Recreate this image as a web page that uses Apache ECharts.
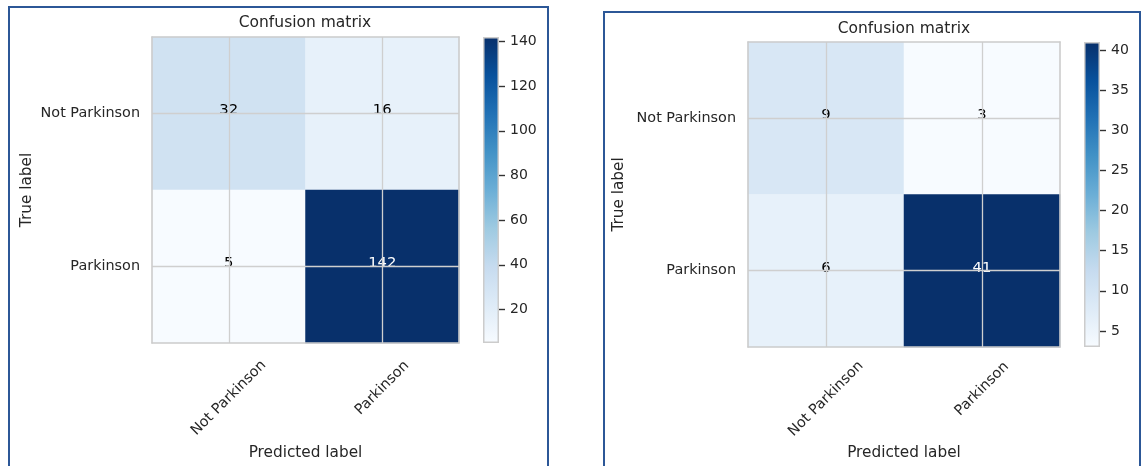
<!DOCTYPE html>
<html>
<head>
<meta charset="utf-8">
<script src="https://cdn.jsdelivr.net/npm/echarts@6/dist/echarts.min.js"></script>
<style>
html,body{margin:0;padding:0;background:#fff;}
#chart{width:1146px;height:466px;}
</style>
</head>
<body>
<div id="chart"></div>
<script>
// ---- data ----
const classes = ['Not Parkinson', 'Parkinson'];
const cmLeft = [[32, 16], [5, 142]];   // rows: true label, cols: predicted label
const cmRight = [[9, 3], [6, 41]];
const cbTicksLeft = [20, 40, 60, 80, 100, 120, 140];
const cbTicksRight = [5, 10, 15, 20, 25, 30, 35, 40];
const titleText = 'Confusion matrix';
const xName = 'Predicted label';
const yName = 'True label';

// ---- style ----
const FONT = 'DejaVu Sans';
const TXT = '#262626';
const blues = ['#f7fbff', '#deebf7', '#c6dbef', '#9ecae1', '#6baed6', '#4292c6', '#2171b5', '#08519c', '#08306b'];
const frameColor = '#cccccc';

const chart = echarts.init(document.getElementById('chart'), null, {renderer: 'canvas'});

const option = {
  animation: false,
  backgroundColor: '#ffffff',
  textStyle: {fontFamily: FONT},
  grid: [], xAxis: [], yAxis: [], series: [], visualMap: [], graphic: []
};

function addPanel(cm, ticks, geo, idx) {
  const vals = cm.flat();
  const vmin = Math.min(...vals), vmax = Math.max(...vals);
  const g0 = option.grid.length;
  option.grid.push({left: geo.hx, top: geo.hy, width: geo.hw, height: geo.hh, containLabel: false});
  option.grid.push({left: geo.cx, top: geo.hy, width: geo.cw, height: geo.hh, containLabel: false});
  const ax0 = option.xAxis.length;
  const frameLine = {show: true, lineStyle: {color: frameColor, width: 1.6}};
  option.xAxis.push({
    type: 'category', gridIndex: g0, data: classes, position: 'bottom', z: 5,
    axisLine: frameLine, axisTick: {show: false}, splitLine: {show: false},
    name: xName, nameLocation: 'middle', nameGap: geo.xGap,
    nameTextStyle: {fontFamily: FONT, fontSize: 15.3, color: TXT},
    axisLabel: {
      interval: 0, rotate: 45, align: 'center', verticalAlign: 'middle', margin: geo.xMargin,
      fontFamily: FONT, fontSize: 14.4, color: TXT,
      formatter: v => v.length < 12 ? '{s|' + v + '}' : '{n|' + v + '}',
      rich: {
        n: {fontFamily: FONT, fontSize: 14.4, color: TXT},
        s: {fontFamily: FONT, fontSize: 14.4, color: TXT, padding: [0, 0, 14, 14]}
      }
    }
  });
  option.xAxis.push({
    type: 'category', gridIndex: g0, data: classes, position: 'top', z: 5,
    axisLine: frameLine, axisTick: {show: false}, axisLabel: {show: false}, splitLine: {show: false}
  });
  option.xAxis.push({
    type: 'category', gridIndex: g0 + 1, data: ['cb'], show: false
  });
  const ay0 = option.yAxis.length;
  option.yAxis.push({
    type: 'category', gridIndex: g0, data: classes, inverse: true, position: 'left', z: 5,
    axisLine: frameLine, axisTick: {show: false}, splitLine: {show: false},
    axisLabel: {margin: 12, fontFamily: FONT, fontSize: 14.4, color: TXT},
    name: yName, nameLocation: 'middle', nameGap: geo.yGap,
    nameTextStyle: {fontFamily: FONT, fontSize: 15.3, color: TXT}
  });
  option.yAxis.push({
    type: 'category', gridIndex: g0, data: classes, inverse: true, position: 'right', z: 5,
    axisLine: frameLine, axisTick: {show: false}, axisLabel: {show: false}, splitLine: {show: false}
  });
  option.yAxis.push({
    type: 'value', gridIndex: g0 + 1, position: 'right', min: vmin, max: vmax,
    axisLine: {show: false}, splitLine: {show: false},
    axisTick: {show: true, customValues: ticks, length: 6, lineStyle: {color: '#333333', width: 1.4}},
    axisLabel: {show: true, customValues: ticks, margin: 11, fontFamily: FONT, fontSize: 14, color: TXT}
  });

  const sIdx = option.series.length;
  const data = [];
  cm.forEach((row, r) => row.forEach((v, c) => {
    data.push({
      value: [c, r, v],
      label: {
        show: true, fontFamily: FONT, fontSize: 14.8, fontWeight: 'normal',
        color: v > (vmin + vmax) / 2 ? '#ffffff' : '#000000'
      }
    });
  }));
  option.series.push({
    type: 'heatmap', xAxisIndex: ax0, yAxisIndex: ay0, data: data,
    itemStyle: {borderWidth: 0},
    label: {show: true, fontFamily: FONT, fontSize: 14.8, offset: [0, -3], formatter: p => String(p.value[2])},
    emphasis: {disabled: true},
    markLine: {
      silent: true, symbol: ['none', 'none'], animation: false,
      label: {show: false},
      lineStyle: {color: '#cfcfcf', width: 1.3, type: 'solid'},
      data: classes.map(c => ({xAxis: c})).concat(classes.map(c => ({yAxis: c})))
    },
    z: 2
  });
  option.visualMap.push({
    type: 'continuous', show: false, seriesIndex: sIdx, min: vmin, max: vmax, dimension: 2,
    inRange: {color: blues}
  });
  option.series.push({
    type: 'bar', xAxisIndex: ax0 + 2, yAxisIndex: ay0 + 2, stack: 'cb' + idx, barWidth: '100%',
    data: [vmin], itemStyle: {color: 'rgba(0,0,0,0)'}, silent: true, clip: true
  });
  option.series.push({
    type: 'bar', xAxisIndex: ax0 + 2, yAxisIndex: ay0 + 2, stack: 'cb' + idx, barWidth: '100%',
    data: [vmax - vmin], silent: true, clip: true,
    itemStyle: {
      color: new echarts.graphic.LinearGradient(0, 1, 0, 0,
        blues.map((c, i) => ({offset: i / (blues.length - 1), color: c}))),
      borderColor: frameColor, borderWidth: 1.5
    }
  });
  option.graphic.push({
    type: 'text', x: geo.tx, y: geo.ty, silent: true,
    style: {text: titleText, fontFamily: FONT, fontSize: 15.5, fill: TXT, align: 'center', verticalAlign: 'middle'}
  });
  option.graphic.push({
    type: 'rect', silent: true, z: 100,
    shape: {x: geo.bx, y: geo.by, width: geo.bw, height: geo.bh},
    style: {fill: 'none', stroke: '#2c5797', lineWidth: 2}
  });
}

addPanel(cmLeft, cbTicksLeft, {
  hx: 152, hy: 37, hw: 307, hh: 306, cx: 483, cw: 16,
  xMargin: 55, xGap: 98, yGap: 117,
  tx: 305, ty: 23, bx: 9, by: 7, bw: 539, bh: 480
}, 0);
addPanel(cmRight, cbTicksRight, {
  hx: 748, hy: 42, hw: 312, hh: 305, cx: 1084, cw: 16,
  xMargin: 52, xGap: 96, yGap: 121,
  tx: 904, ty: 29, bx: 604, by: 12, bw: 536, bh: 480
}, 1);

chart.setOption(option);
</script>
</body>
</html>
